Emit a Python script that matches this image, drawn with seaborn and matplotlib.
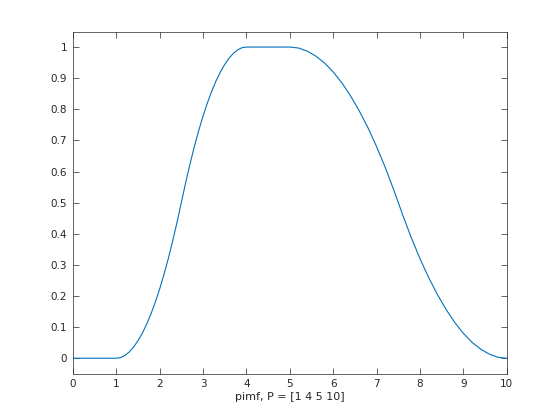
import numpy as np
import pandas as pd
import matplotlib
matplotlib.use("Agg")
import matplotlib.pyplot as plt
import seaborn as sns

# values
x_vals = [0.0, 0.5, 1.0, 1.1, 1.2, 1.3, 1.4, 1.5, 1.6, 1.7, 1.8, 1.9, 2.0,
          2.1, 2.2, 2.3, 2.4, 2.5, 2.6, 2.7, 2.8, 2.9, 3.0, 3.1, 3.2, 3.3,
          3.4, 3.5, 3.6, 3.7, 3.8, 3.9, 4.0, 4.5, 5.0, 5.2, 5.4, 5.6, 5.8,
          6.0, 6.2, 6.4, 6.6, 6.8, 7.0, 7.2, 7.4, 7.5, 7.6, 7.8, 8.0, 8.2,
          8.4, 8.6, 8.8, 9.0, 9.2, 9.4, 9.6, 9.8, 10.0]
y_vals = [0.0, 0.0, 0.0, 0.002, 0.009, 0.02, 0.036, 0.056, 0.08, 0.109, 0.142, 0.18, 0.222,
          0.269, 0.32, 0.376, 0.436, 0.5, 0.564, 0.624, 0.68, 0.731, 0.778, 0.82, 0.858, 0.891,
          0.92, 0.944, 0.964, 0.98, 0.991, 0.998, 1.0, 1.0, 1.0, 0.997, 0.987, 0.971, 0.949,
          0.92, 0.885, 0.843, 0.795, 0.741, 0.68, 0.613, 0.539, 0.5, 0.461, 0.387, 0.32, 0.259,
          0.205, 0.157, 0.115, 0.08, 0.051, 0.029, 0.013, 0.003, 0.0]
x_ticks = [0, 1, 2, 3, 4, 5, 6, 7, 8, 9, 10]
y_ticks = [0, 0.1, 0.2, 0.3, 0.4, 0.5, 0.6, 0.7, 0.8, 0.9, 1]
y_labels = ["0", "0.1", "0.2", "0.3", "0.4", "0.5", "0.6", "0.7", "0.8", "0.9", "1"]

sns.set_style("white")
plt.rcParams["font.family"] = ["DejaVu Sans"]

df = pd.DataFrame({"x": x_vals, "y": y_vals})

fig = plt.figure(figsize=(5.6, 4.2), dpi=100)
ax = fig.add_axes([0.13, 0.11, 0.775, 0.815])
sns.lineplot(data=df, x="x", y="y", color="#0072BD", linewidth=0.8, ax=ax)

ax.set_xlim(0, 10)
ax.set_ylim(-0.05, 1.05)
ax.set_xticks(x_ticks)
ax.set_yticks(y_ticks)
ax.set_yticklabels(y_labels)
ax.set_xlabel("pimf, P = [1 4 5 10]", fontsize=8, color="#262626", labelpad=2)
ax.set_ylabel("")

ax.tick_params(direction="in", length=4, width=0.5, colors="#262626",
               labelsize=7.5, top=True, right=True, bottom=True, left=True, pad=4)
for s in ax.spines.values():
    s.set_visible(True)
    s.set_color("#262626")
    s.set_linewidth(0.5)

fig.savefig("out.png", dpi=100)
